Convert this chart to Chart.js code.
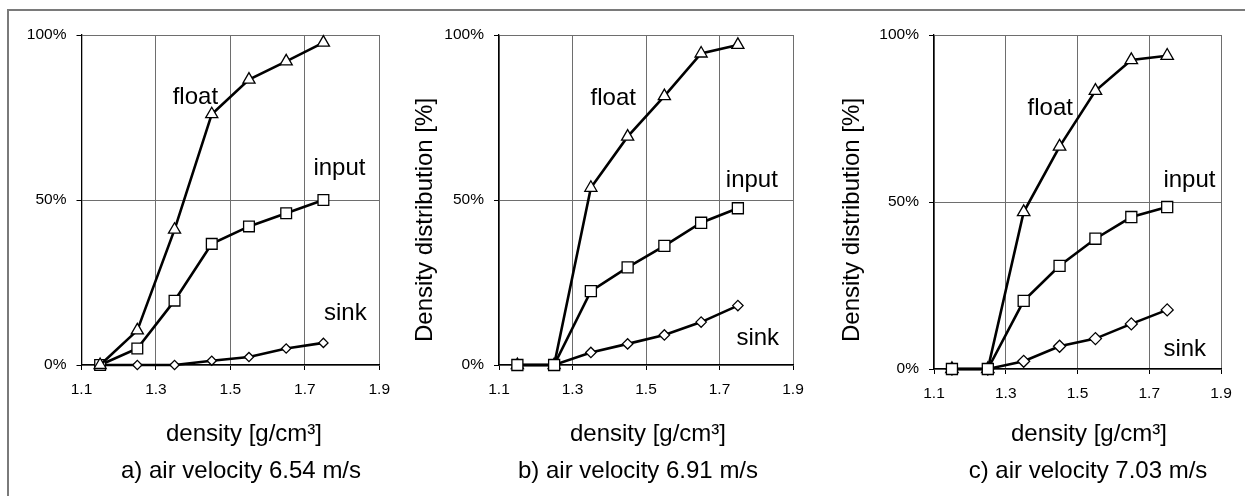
<!DOCTYPE html>
<html>
<head>
<meta charset="utf-8">
<title>Density distribution vs air velocity</title>
<script src="https://cdn.jsdelivr.net/npm/chart.js@4.4.1/dist/chart.umd.min.js"></script>
<style>
  html, body { margin: 0; padding: 0; background: #fff; }
  #page { position: relative; width: 1245px; height: 496px; overflow: hidden; background: #fff; }
  #frame { position: absolute; left: 7px; top: 9px; width: 1260px; height: 500px;
           border-left: 2px solid #7a7a7a; border-top: 2px solid #7a7a7a; }
  .panel { position: absolute; top: 0; }
  canvas { display: block; }
</style>
</head>
<body>
<div id="page">
  <div id="frame"></div>
  <div class="panel" style="left:0px"><canvas id="chartA" width="400" height="496"></canvas></div>
  <div class="panel" style="left:400px"><canvas id="chartB" width="435" height="496"></canvas></div>
  <div class="panel" style="left:835px"><canvas id="chartC" width="410" height="496"></canvas></div>
</div>

<script>
// --- data ---
const density = [1.15, 1.25, 1.35, 1.45, 1.55, 1.65, 1.75];

// a) air velocity 6.54 m/s
const floatA = [0, 10.5, 41, 76, 86.5, 92, 97.7];
const inputA = [0, 5, 19.5, 36.7, 42, 46, 50];
const sinkA  = [0, 0, 0, 1.3, 2.4, 5, 6.7];

// b) air velocity 6.91 m/s
const floatB = [0, 0, 53.7, 69.2, 81.5, 94.4, 97];
const inputB = [0, 0, 22.4, 29.6, 36.1, 43.1, 47.5];
const sinkB  = [0, 0, 3.8, 6.4, 9.1, 13, 18];

// c) air velocity 7.03 m/s
const floatC = [0, 0, 47, 66.6, 83.3, 92.5, 93.8];
const inputC = [0, 0, 20.4, 30.9, 39, 45.5, 48.5];
const sinkC  = [0, 0, 2.3, 6.8, 9.1, 13.5, 17.7];

const captions = ['a) air velocity 6.54 m/s', 'b) air velocity 6.91 m/s', 'c) air velocity 7.03 m/s'];
const xTitle = 'density [g/cm\u00B3]';
const yTitle = 'Density distribution [%]';
const xMin = 1.1, xMax = 1.9, xStep = 0.2;
const yMin = 0, yMax = 100, yStep = 50;

const FONT = '"Liberation Sans", Arial, sans-serif';

// draws the axis titles, caption and the float/input/sink labels
const panelText = {
    id: 'panelText',
    afterDraw(chart, args, opts) {
        const { ctx, scales: { x, y } } = chart;
        ctx.save();
        ctx.fillStyle = '#000';
        ctx.font = '24px ' + FONT;
        ctx.textAlign = 'center';

        // series labels sit at data coordinates
        ctx.textBaseline = 'middle';
        opts.labels.forEach(l => {
            ctx.fillText(l.text, x.getPixelForValue(l.x), y.getPixelForValue(l.y));
        });

        ctx.textBaseline = 'alphabetic';
        ctx.fillText(xTitle, opts.xTitleAt[0], opts.xTitleAt[1]);
        ctx.fillText(opts.caption, opts.captionAt[0], opts.captionAt[1]);

        if (opts.yTitleAt) {
            ctx.translate(opts.yTitleAt[0], opts.yTitleAt[1]);
            ctx.rotate(-Math.PI / 2);
            ctx.textBaseline = 'middle';
            ctx.fillText(yTitle, 0, 0);
        }
        ctx.restore();
    }
};

function series(values) {
    return density.map((d, i) => ({ x: d, y: values[i] }));
}

function buildPanel(id, p) {
    const canvas = document.getElementById(id);
    const sets = [
        { label: 'float', data: series(p.float), pointStyle: 'triangle', pointRadius: p.triR, order: p.order.float },
        { label: 'input', data: series(p.input), pointStyle: 'rect', pointRadius: p.sqR, order: p.order.input },
        { label: 'sink',  data: series(p.sink),  pointStyle: 'rectRot', pointRadius: p.diaR, order: p.order.sink }
    ];
    sets.forEach(s => {
        s.borderColor = '#000';
        s.backgroundColor = '#fff';
        s.pointBackgroundColor = '#fff';
        s.pointBorderColor = '#000';
        s.pointBorderWidth = 1.3;
        s.borderWidth = 2.6;
        s.tension = 0;
        s.clip = false;
    });

    return new Chart(canvas, {
        type: 'line',
        data: { datasets: sets },
        options: {
            responsive: false,
            animation: false,
            devicePixelRatio: 1,
            layout: { padding: { left: 0, top: p.top, right: canvas.width - p.right, bottom: 0 } },
            plugins: {
                legend: { display: false },
                tooltip: { enabled: false },
                panelText: {
                    labels: p.labels,
                    caption: p.caption,
                    xTitleAt: p.xTitleAt,
                    captionAt: p.captionAt,
                    yTitleAt: p.yTitleAt
                }
            },
            scales: {
                x: {
                    type: 'linear',
                    min: xMin,
                    max: xMax,
                    ticks: {
                        stepSize: xStep,
                        autoSkip: false,
                        maxRotation: 0,
                        padding: 10,
                        color: '#000',
                        font: { family: FONT, size: 15.5 },
                        callback: v => v.toFixed(1)
                    },
                    grid: { color: '#6e6e6e', lineWidth: 1, tickColor: '#000', tickLength: 5 },
                    border: { color: '#000', width: 1.3 },
                    afterFit: s => { s.height = canvas.height - p.bottom; }
                },
                y: {
                    min: yMin,
                    max: yMax,
                    ticks: {
                        stepSize: yStep,
                        padding: 10,
                        color: '#000',
                        font: { family: FONT, size: 15.5 },
                        callback: v => v + '%'
                    },
                    grid: { color: '#6e6e6e', lineWidth: 1, tickColor: '#000', tickLength: 5 },
                    border: { color: '#000', width: 1.3 },
                    afterFit: s => { s.width = p.left; }
                }
            }
        },
        plugins: [panelText]
    });
}

document.addEventListener('DOMContentLoaded', () => {

    // --- a) ---
    buildPanel('chartA', {
        float: floatA, input: inputA, sink: sinkA,
        left: 81.5, right: 386, top: 35, bottom: 365,
        triR: 7, sqR: 7.6, diaR: 4.6,
        order: { float: 0, input: 1, sink: 2 },
        labels: [
            { text: 'float', x: 1.406, y: 81.2 },
            { text: 'input', x: 1.793, y: 59.5 },
            { text: 'sink',  x: 1.809, y: 15.7 }
        ],
        caption: captions[0],
        xTitleAt: [244, 441],
        captionAt: [241, 478]
    });

    // --- b) ---
    buildPanel('chartB', {
        float: floatB, input: inputB, sink: sinkB,
        left: 99, right: 393, top: 35, bottom: 365,
        triR: 7, sqR: 7.8, diaR: 5.2,
        order: { float: 1, input: 0, sink: 2 },
        labels: [
            { text: 'float', x: 1.411, y: 80.9 },
            { text: 'input', x: 1.788, y: 55.8 },
            { text: 'sink',  x: 1.804, y: 8.2 }
        ],
        caption: captions[1],
        xTitleAt: [248, 441],
        captionAt: [238, 478],
        yTitleAt: [25, 220]
    });

    // --- c) ---
    buildPanel('chartC', {
        float: floatC, input: inputC, sink: sinkC,
        left: 99, right: 386, top: 35, bottom: 369,
        triR: 7.2, sqR: 7.8, diaR: 6,
        order: { float: 1, input: 0, sink: 2 },
        labels: [
            { text: 'float', x: 1.424, y: 78 },
            { text: 'input', x: 1.812, y: 56.5 },
            { text: 'sink',  x: 1.799, y: 6 }
        ],
        caption: captions[2],
        xTitleAt: [254, 441],
        captionAt: [253, 478],
        yTitleAt: [17, 220]
    });
});
</script>
</body>
</html>
